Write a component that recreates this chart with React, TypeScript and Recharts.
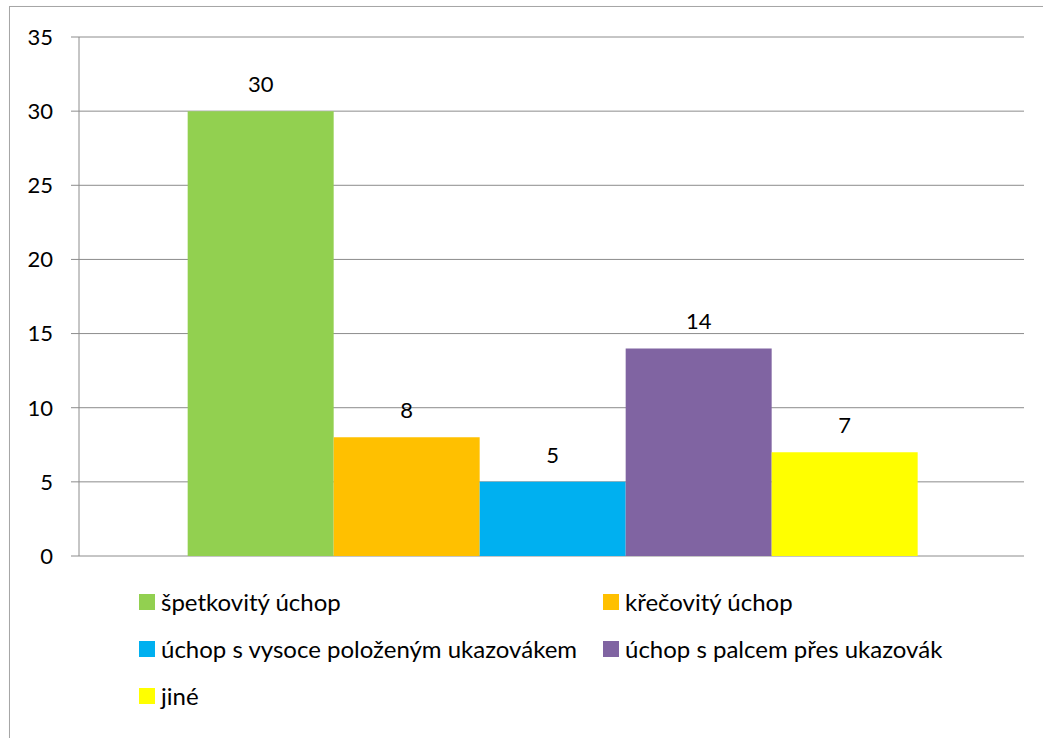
import React from "react";
import { BarChart, Bar, XAxis, YAxis, CartesianGrid, Legend, LabelList } from "recharts";

const categories = [""];
const seriesNames = [
  "špetkovitý úchop",
  "křečovitý úchop",
  "úchop s vysoce položeným ukazovákem",
  "úchop s palcem přes ukazovák",
  "jiné",
];
const seriesValues = [30, 8, 5, 14, 7];
const seriesColors = ["#92d050", "#ffc000", "#00b0f0", "#8064a2", "#ffff00"];
const yTicks = [0, 5, 10, 15, 20, 25, 30, 35];

const data = categories.map((c) => {
  const row: Record<string, any> = { name: c };
  seriesNames.forEach((s, i) => {
    row["s" + i] = seriesValues[i];
  });
  return row;
});

const FONT = "Lato, 'Liberation Sans', sans-serif";

const LegendContent = (props: any) => {
  const payload = [...(props.payload || [])].sort(
    (a: any, b: any) => seriesNames.indexOf(a.value) - seriesNames.indexOf(b.value)
  );
  return (
    <div
      style={{
        display: "grid",
        gridTemplateColumns: "464px 400px",
        rowGap: 0,
        fontFamily: FONT,
        fontSize: 24,
        color: "#000",
      }}
    >
      {payload.map((p: any, i: number) => (
        <div key={i} style={{ display: "flex", alignItems: "center", height: 47 }}>
          <span style={{ display: "inline-block", width: 16, height: 16, background: p.color, marginRight: 6, flex: "none" }} />
          <span style={{ whiteSpace: "nowrap" }}>{p.value}</span>
        </div>
      ))}
    </div>
  );
};

export default function App() {
  return (
    <div style={{ position: "absolute", left: 0, top: 0, width: 1043, height: 738, background: "#fff", overflow: "hidden" }}>
      <div
        style={{
          position: "absolute",
          left: 9,
          top: 6,
          width: 1060,
          height: 760,
          border: "1.5px solid #a6a6a6",
          boxShadow: "1px 1px 2px rgba(0,0,0,0.15)",
        }}
      />
      <div style={{ position: "absolute", left: 0, top: 0 }}>
        <BarChart
          width={1043}
          height={738}
          data={data}
          margin={{ top: 37, right: 19, bottom: 182, left: 0 }}
          barCategoryGap="11.5%"
          barGap={0}
        >
          <CartesianGrid horizontal vertical={false} stroke="#8c8c8c" strokeWidth={1} />
          <XAxis dataKey="name" hide />
          <YAxis
            domain={[0, 35]}
            ticks={yTicks}
            width={79}
            tickSize={8}
            tickMargin={18}
            axisLine={{ stroke: "#8c8c8c" }}
            tickLine={{ stroke: "#8c8c8c" }}
            tick={{ fill: "#000", fontSize: 22, fontFamily: FONT }}
            interval={0}
          />
          <Legend
            layout="horizontal"
            verticalAlign="middle"
            align="center"
            content={<LegendContent />}
            wrapperStyle={{ left: 139, top: 578, width: 880 }}
          />
          {seriesNames.map((s, i) => (
            <Bar key={s} dataKey={"s" + i} name={s} fill={seriesColors[i]} isAnimationActive={false}>
              <LabelList
                dataKey={"s" + i}
                position="top"
                offset={19}
                style={{ fill: "#000", fontSize: 22, fontFamily: FONT }}
              />
            </Bar>
          ))}
        </BarChart>
      </div>
    </div>
  );
}
